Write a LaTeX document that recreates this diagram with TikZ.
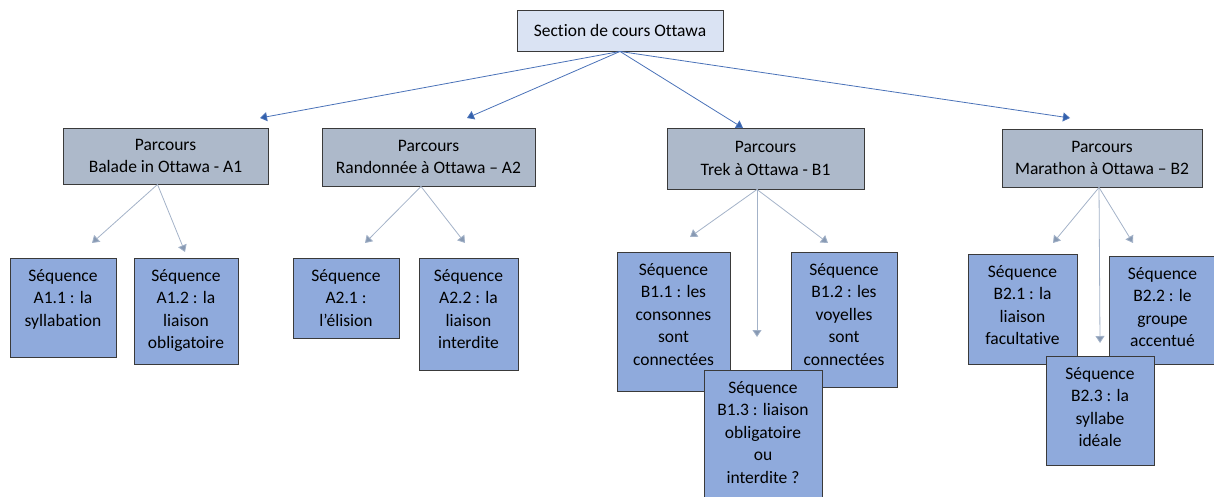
\documentclass[tikz,border=0pt]{standalone}
\usepackage{fontspec}
\setmainfont[Ligatures=NoCommon]{Carlito}
\usepackage{xcolor}
\usepackage{tikz}
\usetikzlibrary{positioning}
\usetikzlibrary{arrows.meta, calc}

\definecolor{secfill}{HTML}{DAE3F3}
\definecolor{parcfill}{HTML}{ADB9CA}
\definecolor{seqfill}{HTML}{8FAADC}
\definecolor{boxline}{HTML}{3A3A3A}
\definecolor{topline}{HTML}{4A72B8}
\definecolor{toptip}{HTML}{3260AC}
\definecolor{subline}{HTML}{A3B2C8}
\definecolor{subtip}{HTML}{8799B3}

\newcommand{\boxfont}{\fontsize{17.5}{22.5}\selectfont}

\tikzset{
    secbox/.style={draw=boxline, fill=secfill, line width=0.9pt, inner sep=0pt, align=center, font=\boxfont},
    parcbox/.style={draw=boxline, fill=parcfill, line width=0.9pt, inner sep=0pt, align=center, font=\boxfont},
    seqbox/.style={draw=boxline, fill=seqfill, line width=0.9pt, inner sep=0pt},
    seqtext/.style={inner sep=0pt, align=center, font=\boxfont},
    toparrow/.style={draw=topline, line width=0.8pt, -{Triangle[width=9pt, length=7pt, fill=toptip]}},
    subarrow/.style={draw=subline, line width=0.8pt, -{Triangle[width=9pt, length=7pt, fill=subtip]}}
}

\begin{document}
\begin{tikzpicture}[x=1pt, y=-1pt]
            \useasboundingbox (0,0) rectangle (1214,496);

            % section
            \node[secbox, minimum width=206pt, minimum height=41pt] (sec) at (620,30.5) {Section de cours Ottawa};

            % parcours
            \node[parcbox, minimum width=205pt, minimum height=56pt] (pa1) at (165.5,156) {Parcours\\Balade in Ottawa - A1};
            \node[parcbox, minimum width=213pt, minimum height=58pt] (pa2) at (428.5,157) {Parcours\\Randonnée à Ottawa – A2};
            \node[parcbox, minimum width=197pt, minimum height=61pt] (pa3) at (765.5,158.5) {Parcours\\Trek à Ottawa - B1};
            \node[parcbox, minimum width=200pt, minimum height=58pt] (pa4) at (1102,158) {Parcours\\Marathon à Ottawa – B2};

            % sequences A1
            \node[seqbox, minimum width=106pt, minimum height=99pt] (a11) at (63,307.5) {};
            \node[seqtext, below=11.5pt of a11.north] (a11t) {Séquence\\A1.1 : la\\syllabation};
            \node[seqbox, minimum width=104pt, minimum height=106pt] (a12) at (186,311) {};
            \node[seqtext, below=11.5pt of a12.north] (a12t) {Séquence\\A1.2 : la\\liaison\\obligatoire};

            % sequences A2
            \node[seqbox, minimum width=106pt, minimum height=80pt] (a21) at (346,298) {};
            \node[seqtext, below=11.5pt of a21.north] (a21t) {Séquence\\A2.1 :\\l’élision};
            \node[seqbox, minimum width=99pt, minimum height=112pt] (a22) at (468.5,314) {};
            \node[seqtext, below=11.5pt of a22.north] (a22t) {Séquence\\A2.2 : la\\liaison\\interdite};

            % sequences B1
            \node[seqbox, minimum width=113pt, minimum height=139pt] (b11) at (673.5,321.5) {};
            \node[seqtext, below=11.5pt of b11.north] (b11t) {Séquence\\B1.1 : les\\consonnes\\sont\\connectées};
            \node[seqbox, minimum width=106pt, minimum height=135pt] (b12) at (844,319.5) {};
            \node[seqtext, below=11.5pt of b12.north] (b12t) {Séquence\\B1.2 : les\\voyelles\\sont\\connectées};
            \node[seqbox, minimum width=118pt, minimum height=130pt] (b13) at (763,435) {};
            \node[seqtext, below=11.5pt of b13.north] (b13t) {Séquence\\B1.3 : liaison\\obligatoire\\ou\\interdite ?};

            % sequences B2
            \node[seqbox, minimum width=109pt, minimum height=110pt] (b21) at (1022.5,309) {};
            \node[seqtext, below=11.5pt of b21.north] (b21t) {Séquence\\B2.1 : la\\liaison\\facultative};
            \node[seqbox, minimum width=107pt, minimum height=108pt] (b22) at (1162.5,310) {};
            \node[seqtext, below=11.5pt of b22.north] (b22t) {Séquence\\B2.2 : le\\groupe\\accentué};
            \node[seqbox, minimum width=108pt, minimum height=109pt] (b23) at (1100,410.5) {};
            \node[seqtext, below=11.5pt of b23.north] (b23t) {Séquence\\B2.3 : la\\syllabe\\idéale};

            % arrow ends
            \coordinate (t1) at (260,118);
            \coordinate (t2) at (467,118);
            \coordinate (t3) at (743,128);
            \coordinate (t4) at (1070,118);
            \coordinate (ta11) at (92,243);
            \coordinate (ta12) at (185,252);
            \coordinate (ta21) at (365,243);
            \coordinate (ta22) at (465,243);
            \coordinate (tb11) at (690,237);
            \coordinate (tb13) at (757,337);
            \coordinate (tb12) at (828,243);
            \coordinate (tb21) at (1053,243);
            \coordinate (tb23) at (1100,343);
            \coordinate (tb22) at (1133,243);

            \draw[toparrow] (sec.south) -- (t1);
            \draw[toparrow] (sec.south) -- (t2);
            \draw[toparrow] (sec.south) -- (t3);
            \draw[toparrow] (sec.south) -- (t4);

            \draw[subarrow] ([xshift=-8pt]pa1.south) -- (ta11);
            \draw[subarrow] ([xshift=-8pt]pa1.south) -- (ta12);
            \draw[subarrow] ([xshift=-7.5pt]pa2.south) -- (ta21);
            \draw[subarrow] ([xshift=-7.5pt]pa2.south) -- (ta22);
            \draw[subarrow] ([xshift=-8.5pt]pa3.south) -- (tb11);
            \draw[subarrow] ([xshift=-8.5pt]pa3.south) -- (tb13);
            \draw[subarrow] ([xshift=-8.5pt]pa3.south) -- (tb12);
            \draw[subarrow] ([xshift=-3pt]pa4.south) -- (tb21);
            \draw[subarrow] ([xshift=-3pt]pa4.south) -- (tb23);
            \draw[subarrow] ([xshift=-3pt]pa4.south) -- (tb22);
        \end{tikzpicture}
\end{document}
